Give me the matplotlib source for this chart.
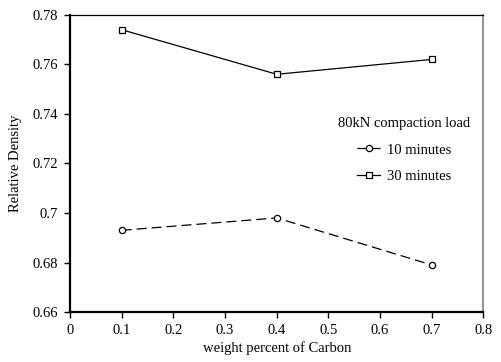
import matplotlib
matplotlib.use('Agg')
import matplotlib.pyplot as plt
import matplotlib.ticker as mticker

plt.rcParams['font.family'] = ['Liberation Serif', 'DejaVu Serif']

carbon = [0.1, 0.4, 0.7]
density_10min = [0.693, 0.698, 0.679]
density_30min = [0.774, 0.756, 0.762]

fig = plt.figure(figsize=(5.01, 3.62), dpi=100)
ax = fig.add_axes([0.1397, 0.138, 0.8253, 0.821])

ax.plot(carbon, density_10min, color='black', linewidth=0.9, linestyle=(0, (8, 4)),
        marker='o', markersize=4.5, markerfacecolor='white', markeredgecolor='black',
        markeredgewidth=0.9, label='10 minutes')
ax.plot(carbon, density_30min, color='black', linewidth=0.9, linestyle='-',
        marker='s', markersize=4.5, markerfacecolor='white', markeredgecolor='black',
        markeredgewidth=0.9, label='30 minutes')

ax.set_xlim(0, 0.8)
ax.set_ylim(0.66, 0.78)
ax.xaxis.set_major_locator(mticker.MultipleLocator(0.1))
ax.yaxis.set_major_locator(mticker.MultipleLocator(0.02))
ax.xaxis.set_major_formatter(mticker.FuncFormatter(lambda v, p: f'{v:g}' if abs(v) > 1e-9 else '0'))
ax.yaxis.set_major_formatter(mticker.FuncFormatter(lambda v, p: f'{round(v, 2):g}'))

ax.tick_params(axis='both', labelsize=10.5, length=4.5, width=1, colors='black', pad=4)
ax.tick_params(top=False, right=False)

for side in ('left', 'bottom'):
    ax.spines[side].set_linewidth(1.6)
    ax.spines[side].set_color('black')
ax.spines['top'].set_linewidth(0.9)
ax.spines['top'].set_color('black')
ax.spines['right'].set_linewidth(1.2)
ax.spines['right'].set_color('#808080')

ax.set_xlabel('weight percent of Carbon', fontsize=10.5, labelpad=3)
ax.set_ylabel('Relative Density', fontsize=10.5, labelpad=8)

leg = ax.legend(title='80kN compaction load', loc='upper center',
                bbox_to_anchor=(0.808, 0.69), frameon=False, fontsize=10.5,
                title_fontsize=10.5, handlelength=1.6, handletextpad=0.45,
                labelspacing=0.9, borderpad=0.2)

fig.savefig('out.png', dpi=100)
